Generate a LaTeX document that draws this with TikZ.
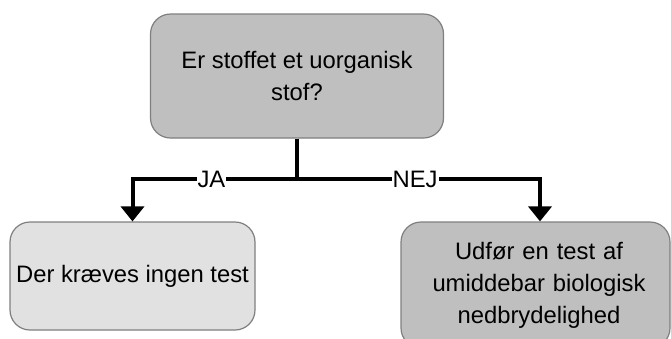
\documentclass[tikz,border=0pt]{standalone}
\usepackage{fontspec}
\setmainfont{Liberation Sans}
\usetikzlibrary{arrows.meta}
\definecolor{boxdark}{HTML}{BFBFBF}
\definecolor{boxlight}{HTML}{E1E1E1}
\definecolor{boxedge}{HTML}{7F7F7F}
\begin{document}
\begin{tikzpicture}[x=1pt,y=-1pt,
  every node/.style={font=\fontsize{23.8}{32}\selectfont},
  decision/.style={draw=boxedge,line width=1.2pt,rounded corners=20pt,
    align=center,inner sep=0pt},
  conn/.style={line width=4pt},
  arr/.style={conn,-{Triangle[width=23pt,length=15pt]}},
  lbl/.style={fill=white,inner sep=1pt}]
\useasboundingbox (0,0) rectangle (671,338);
\clip (0,0) rectangle (671,338);
% question box
\node[decision,fill=boxdark,minimum width=293pt,minimum height=124pt]
  (q) at (297,76) {Er stoffet et uorganisk\\stof?};
% outcome boxes
\node[decision,fill=boxlight,minimum width=245pt,minimum height=108pt]
  (yes) at (132.5,276) {Der kræves ingen test};
\node[decision,fill=boxdark,minimum width=269pt,minimum height=126pt,
  text width=269pt] (no) at (535.5,285)
  {\hspace*{7pt}Udfør en test af\\\hspace*{7pt}umiddebar biologisk\\\hspace*{7pt}nedbrydelighed};
% branching connectors
\coordinate (j) at (297,179);
\coordinate (jr) at (540,179);
\draw[conn] (q.south) -- (j);
\draw[arr] (j) -| node[lbl,pos=0.26] {JA} (yes.north);
\draw[arr] (j) -- node[lbl,pos=0.486] {NEJ} (jr) -- (jr |- no.north);
\end{tikzpicture}
\end{document}
